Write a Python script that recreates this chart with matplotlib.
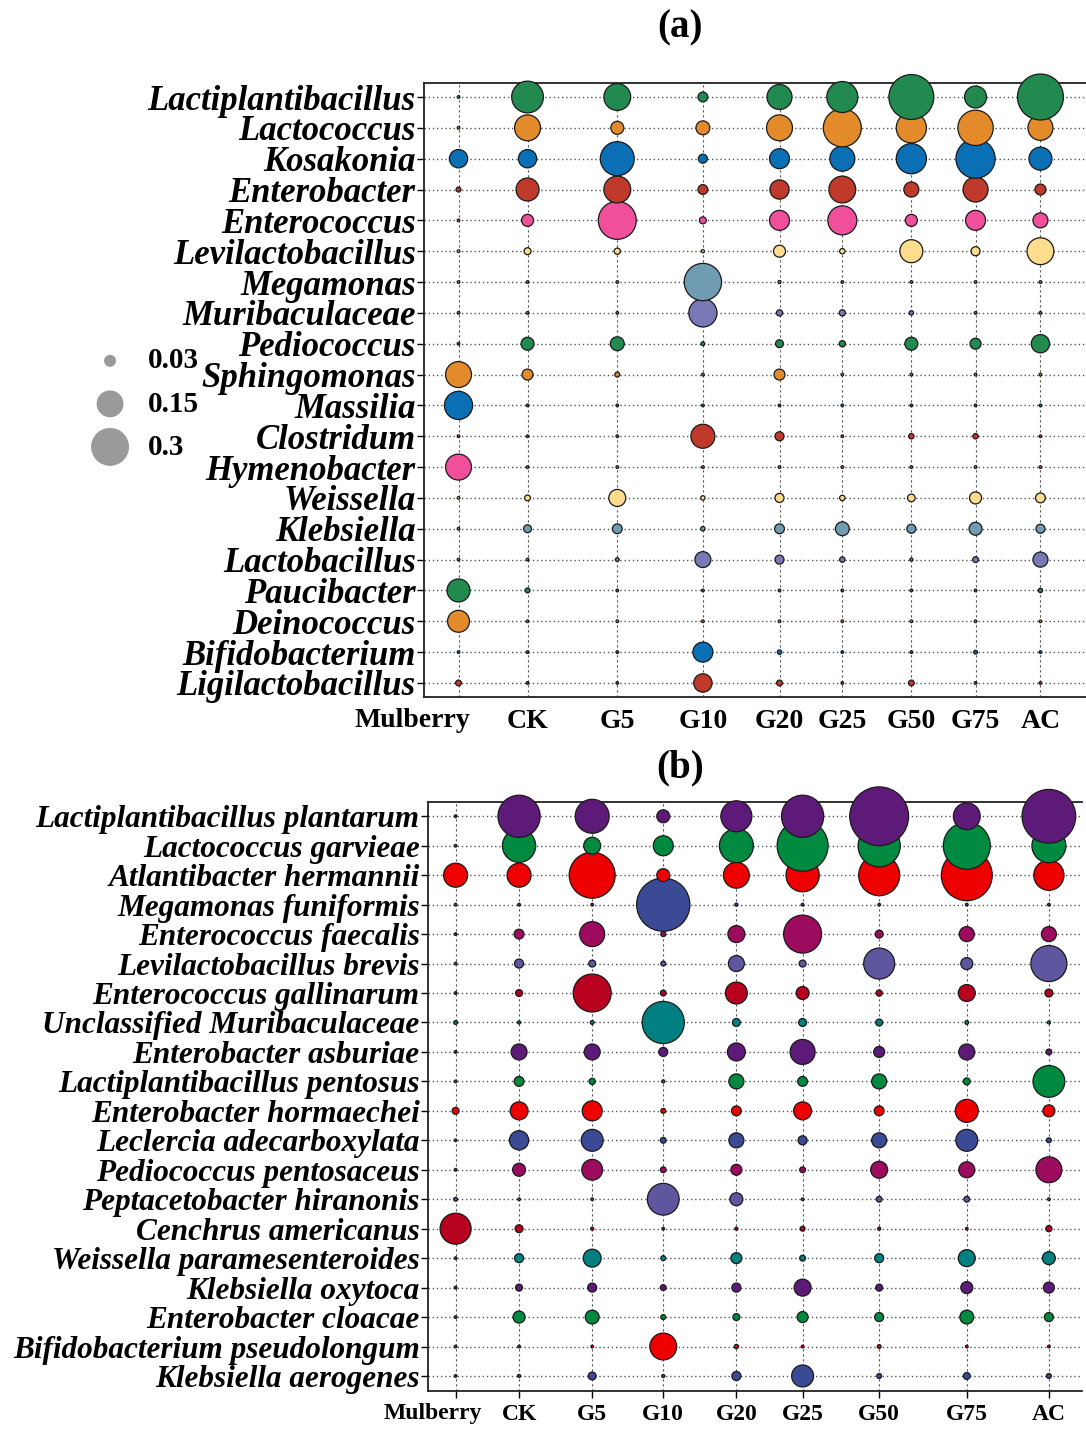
import matplotlib.pyplot as plt
import matplotlib.transforms as mtransforms
import numpy as np

groups = ['Mulberry', 'CK', 'G5', 'G10', 'G20', 'G25', 'G50', 'G75', 'AC']

# (a) genus level
genus_a = ['Lactiplantibacillus', 'Lactococcus', 'Kosakonia', 'Enterobacter',
           'Enterococcus', 'Levilactobacillus', 'Megamonas', 'Muribaculaceae',
           'Pediococcus', 'Sphingomonas', 'Massilia', 'Clostridum',
           'Hymenobacter', 'Weissella', 'Klebsiella', 'Lactobacillus',
           'Paucibacter', 'Deinococcus', 'Bifidobacterium', 'Ligilactobacillus']
lactiplantibacillus = [0, 0.21, 0.15, 0.02, 0.13, 0.20, 0.42, 0.10, 0.44]
lactococcus = [0, 0.14, 0.035, 0.04, 0.14, 0.30, 0.19, 0.26, 0.13]
kosakonia = [0.07, 0.07, 0.24, 0.017, 0.083, 0.13, 0.19, 0.32, 0.11]
enterobacter = [0.005, 0.11, 0.15, 0.02, 0.077, 0.15, 0.047, 0.13, 0.025]
enterococcus = [0, 0.03, 0.30, 0.01, 0.083, 0.175, 0.03, 0.083, 0.047]
levilactobacillus = [0, 0.01, 0.008, 0.002, 0.03, 0.006, 0.11, 0.017, 0.15]
megamonas = [0, 0, 0, 0.29, 0.002, 0, 0, 0, 0]
muribaculaceae = [0, 0, 0, 0.165, 0.008, 0.008, 0.004, 0, 0]
pediococcus = [0, 0.035, 0.04, 0.003, 0.013, 0.008, 0.035, 0.025, 0.07]
sphingomonas = [0.14, 0.025, 0.005, 0, 0.025, 0, 0, 0, 0]
massilia = [0.165, 0, 0, 0, 0, 0, 0, 0, 0]
clostridum = [0, 0, 0, 0.12, 0.017, 0, 0.006, 0.006, 0]
hymenobacter = [0.14, 0, 0, 0, 0, 0, 0, 0, 0]
weissella = [0, 0.007, 0.06, 0.004, 0.017, 0.006, 0.012, 0.03, 0.02]
klebsiella = [0, 0.013, 0.02, 0.004, 0.02, 0.04, 0.017, 0.035, 0.017]
lactobacillus = [0, 0, 0.003, 0.053, 0.017, 0.006, 0.002, 0.007, 0.047]
paucibacter = [0.11, 0.005, 0, 0, 0, 0, 0, 0, 0.004]
deinococcus = [0.10, 0, 0, 0, 0, 0, 0, 0, 0]
bifidobacterium = [0, 0, 0, 0.083, 0.004, 0, 0, 0.003, 0]
ligilactobacillus = [0.007, 0, 0, 0.07, 0.007, 0, 0.007, 0, 0]
abund_a = [lactiplantibacillus, lactococcus, kosakonia, enterobacter,
           enterococcus, levilactobacillus, megamonas, muribaculaceae,
           pediococcus, sphingomonas, massilia, clostridum, hymenobacter,
           weissella, klebsiella, lactobacillus, paucibacter, deinococcus,
           bifidobacterium, ligilactobacillus]

# (b) species level
species_b = ['Lactiplantibacillus plantarum', 'Lactococcus garvieae',
             'Atlantibacter hermannii', 'Megamonas funiformis',
             'Enterococcus faecalis', 'Levilactobacillus brevis',
             'Enterococcus gallinarum', 'Unclassified Muribaculaceae',
             'Enterobacter asburiae', 'Lactiplantibacillus pentosus',
             'Enterobacter hormaechei', 'Leclercia adecarboxylata',
             'Pediococcus pentosaceus', 'Peptacetobacter hiranonis',
             'Cenchrus americanus', 'Weissella paramesenteroides',
             'Klebsiella oxytoca', 'Enterobacter cloacae',
             'Bifidobacterium pseudolongum', 'Klebsiella aerogenes']
l_plantarum = [0, 0.37, 0.24, 0.035, 0.20, 0.37, 0.72, 0.15, 0.60]
l_garvieae = [0, 0.23, 0.06, 0.083, 0.24, 0.54, 0.37, 0.46, 0.24]
a_hermannii = [0.12, 0.12, 0.44, 0.035, 0.14, 0.23, 0.35, 0.54, 0.19]
m_funiformis = [0, 0, 0, 0.59, 0.002, 0, 0, 0, 0]
e_faecalis = [0, 0.02, 0.13, 0.005, 0.06, 0.30, 0.013, 0.047, 0.047]
l_brevis = [0, 0.017, 0.01, 0.005, 0.053, 0.01, 0.20, 0.03, 0.27]
e_gallinarum = [0, 0.01, 0.30, 0.007, 0.10, 0.035, 0.008, 0.06, 0.013]
u_muribaculaceae = [0.003, 0.002, 0.003, 0.37, 0.013, 0.013, 0.01, 0.003, 0.002]
e_asburiae = [0, 0.053, 0.053, 0.017, 0.067, 0.13, 0.025, 0.053, 0.007]
l_pentosus = [0, 0.02, 0.008, 0.002, 0.047, 0.02, 0.047, 0.01, 0.21]
e_hormaechei = [0.01, 0.067, 0.083, 0.005, 0.02, 0.067, 0.02, 0.11, 0.03]
l_adecarboxylata = [0, 0.077, 0.10, 0.007, 0.047, 0.017, 0.047, 0.10, 0.005]
p_pentosaceus = [0, 0.035, 0.09, 0.007, 0.025, 0.007, 0.06, 0.053, 0.14]
p_hiranonis = [0.003, 0, 0, 0.21, 0.035, 0, 0.007, 0.007, 0]
c_americanus = [0.20, 0.013, 0.002, 0, 0.002, 0.005, 0.002, 0, 0.008]
w_paramesenteroides = [0, 0.017, 0.067, 0.005, 0.025, 0.007, 0.017, 0.06, 0.035]
k_oxytoca = [0, 0.01, 0.017, 0.007, 0.017, 0.06, 0.01, 0.03, 0.025]
e_cloacae = [0, 0.03, 0.04, 0.005, 0.01, 0.025, 0.017, 0.04, 0.017]
b_pseudolongum = [0, 0, 0, 0.15, 0.004, 0, 0.003, 0, 0]
k_aerogenes = [0, 0.002, 0.013, 0.002, 0.017, 0.10, 0.005, 0.01, 0.005]
abund_b = [l_plantarum, l_garvieae, a_hermannii, m_funiformis, e_faecalis,
           l_brevis, e_gallinarum, u_muribaculaceae, e_asburiae, l_pentosus,
           e_hormaechei, l_adecarboxylata, p_pentosaceus, p_hiranonis,
           c_americanus, w_paramesenteroides, k_oxytoca, e_cloacae,
           b_pseudolongum, k_aerogenes]

legend_vals = [0.03, 0.15, 0.3]

# colores (se repiten cada 8 filas)
pal_a = ['#228a4f', '#e38b2b', '#0a6fb5', '#bf3a2b',
         '#ef4f9b', '#fddc8d', '#6f9cb0', '#7b78b6']
pal_b = ['#5e1a78', '#008a40', '#ee0000', '#3a4a95',
         '#9c0b5e', '#5f56a0', '#b8001f', '#008080']

# posiciones de columnas (no equiespaciadas como en el original)
xpos_a = [0.50, 1.50, 2.80, 4.04, 5.15, 6.06, 7.06, 7.99, 8.93]
xpos_b = [0.40, 1.32, 2.38, 3.41, 4.47, 5.43, 6.54, 7.81, 9.00]

SCALE = 2490  # s (pt^2) por unidad de abundancia
SERIF = 'Liberation Serif'

fig = plt.figure(figsize=(10.86, 14.39), dpi=100)
W, H = 1086, 1439


def bubble_panel(rect, names, data, pal, xpos, xlim, ylim, ysize, xsize, mul_dx, mul_dy, xticks_b):
    ax = fig.add_axes([rect[0] / W, 1 - rect[3] / H, (rect[2] - rect[0]) / W, (rect[3] - rect[1]) / H])
    n = len(names)
    xs, ys, ss, cs = [], [], [], []
    for i in range(n - 1, -1, -1):  # filas de arriba quedan encima
        for j, v in enumerate(data[i]):
            xs.append(xpos[j]); ys.append(i)
            ss.append(SCALE * max(v, 0.0015)); cs.append(pal[i % len(pal)])
    ax.scatter(xs, ys, s=ss, c=cs, edgecolors='#1a1a1a', linewidths=0.9, zorder=3, clip_on=False)

    ax.set_xlim(*xlim); ax.set_ylim(*ylim)
    ax.set_yticks(range(n))
    ax.set_yticklabels(names, family=SERIF, fontweight='bold', fontstyle='italic', fontsize=ysize)
    ax.set_xticks(xpos)
    ax.set_xticklabels([''] + groups[1:], family=SERIF, fontweight='bold', fontsize=xsize)
    # "Mulberry" desplazado a la izquierda como en la figura original
    tr = ax.get_xaxis_transform() + mtransforms.ScaledTranslation(mul_dx / 100, mul_dy / 100, fig.dpi_scale_trans)
    ax.text(xpos[0], 0, groups[0], transform=tr, ha='center', va='top',
            family=SERIF, fontweight='bold', fontsize=xsize)
    ax.tick_params(axis='y', length=5, width=1, pad=1)
    ax.tick_params(axis='x', length=5 if xticks_b else 0, width=1, pad=9 if not xticks_b else 4)
    ax.grid(axis='x', color='#555555', linestyle=(0, (2, 2.5)), linewidth=0.8, zorder=0)
    ax.grid(axis='y', color='#555555', linestyle=(0, (1, 2)), linewidth=1.0, zorder=0)
    ax.set_axisbelow(True)
    for sp in ['top', 'bottom', 'left']:
        ax.spines[sp].set_linewidth(1.3)
        ax.spines[sp].set_color('#222222')
    ax.spines['right'].set_visible(False)
    return ax


ax_a = bubble_panel((424, 83, 1086, 697), genus_a, abund_a, pal_a, xpos_a,
                    (0, 9.59), (19.455, -0.454), 25, 20, -46, -11, False)
ax_b = bubble_panel((428, 802, 1082, 1391), species_b, abund_b, pal_b, xpos_b,
                    (0, 9.48), (19.51, -0.485), 22.5, 17, -23, -12, True)

# leyenda de tamaños
handles = [ax_a.scatter([], [], s=SCALE * v, c='#9a9a9a', edgecolors='none') for v in legend_vals]
fig.legend(handles, [str(v) for v in legend_vals], loc='center', bbox_to_anchor=(140 / W, 1 - 404 / H),
           frameon=False, labelspacing=0.55, handletextpad=0.3, borderpad=0,
           prop={'family': SERIF, 'weight': 'bold', 'size': 21})

fig.text(680 / W, 1 - 28 / H, '(a)', ha='center', va='center', family=SERIF, fontweight='bold', fontsize=28)
fig.text(680 / W, 1 - 768 / H, '(b)', ha='center', va='center', family=SERIF, fontweight='bold', fontsize=28)

fig.savefig('out.png', dpi=100)
